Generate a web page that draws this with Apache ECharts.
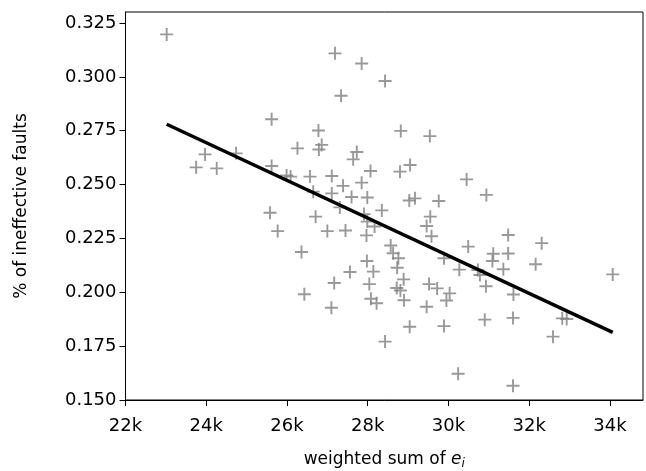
<!DOCTYPE html>
<html>
<head>
<meta charset="utf-8">
<script src="https://cdn.jsdelivr.net/npm/echarts@6/dist/echarts.min.js"></script>
<style>
html, body { margin: 0; padding: 0; background: #fff; }
#chart { width: 646px; height: 471px; }
</style>
</head>
<body>
<div id="chart"></div>
<script>
// weighted sum of e_i (x) vs. share of ineffective faults (y)
var weightedSum = [
    23020, 27190, 27850, 28430, 27340, 25620, 28820, 29540, 26780, 26860,
    26790, 26260, 27730, 27640, 28070, 28800, 29050, 30450, 30940, 23970,
    23750, 24260, 24740, 25620, 25990, 26090, 26570, 26650, 27110, 27110,
    27390, 27850, 27600, 27990, 29030, 29170, 29760, 28350, 27310, 25580,
    25770, 26710, 27000, 27450, 26360, 27910, 27990, 28170, 27970, 29550,
    29460, 29580, 28570, 28630, 28760, 28730, 27980, 28140, 28040, 28080,
    28220, 27560, 27170, 26430, 27100, 28890, 28720, 28810, 28900, 29520,
    29720, 30030, 29950, 29460, 29040, 29890, 28430, 30490, 29890, 30270,
    30730, 30780, 30930, 31110, 31090, 31480, 31480, 31360, 31610, 32310,
    32160, 34070, 30900, 31600, 32820, 32930, 32590, 30240, 31600
];
var ineffective = [
    0.3197, 0.3109, 0.3062, 0.2981, 0.2912, 0.2803, 0.2749, 0.2725, 0.2751, 0.2684,
    0.2663, 0.2668, 0.2651, 0.2617, 0.2563, 0.2560, 0.2591, 0.2524, 0.2452, 0.2640,
    0.2580, 0.2575, 0.2645, 0.2586, 0.2542, 0.2537, 0.2537, 0.2467, 0.2540, 0.2459,
    0.2494, 0.2509, 0.2442, 0.2440, 0.2426, 0.2436, 0.2424, 0.2380, 0.2394, 0.2369,
    0.2284, 0.2351, 0.2284, 0.2287, 0.2187, 0.2363, 0.2328, 0.2305, 0.2264, 0.2351,
    0.2308, 0.2260, 0.2217, 0.2181, 0.2158, 0.2114, 0.2145, 0.2096, 0.2038, 0.1970,
    0.1949, 0.2094, 0.2043, 0.1991, 0.1928, 0.2060, 0.2020, 0.2008, 0.1963, 0.2038,
    0.2018, 0.1995, 0.1962, 0.1933, 0.1840, 0.1843, 0.1771, 0.2212, 0.2158, 0.2105,
    0.2103, 0.2080, 0.2028, 0.2179, 0.2145, 0.2266, 0.2180, 0.2107, 0.1990, 0.2228,
    0.2130, 0.2083, 0.1873, 0.1881, 0.1879, 0.1876, 0.1794, 0.1622, 0.1566
];
// regression line end points
var fitX = [23020, 34070];
var fitY = [0.2780, 0.1814];

var xTicks = [22000, 24000, 26000, 28000, 30000, 32000, 34000];
var yTicks = [0.150, 0.175, 0.200, 0.225, 0.250, 0.275, 0.300, 0.325];

var font = 'DejaVu Sans';
var tickSize = 18;
var titleSize = 17;
var chart = echarts.init(document.getElementById('chart'));

var points = weightedSum.map(function (x, i) {
    return [x, ineffective[i]];
});
var fitLine = fitX.map(function (x, i) {
    return [x, fitY[i]];
});

chart.setOption({
    animation: false,
    backgroundColor: '#fff',
    grid: {
        left: 125.5,
        right: 3,
        top: 12,
        bottom: 71,
        show: true,
        borderColor: '#000',
        borderWidth: 1,
        outerBoundsMode: 'none'
    },
    xAxis: {
        type: 'value',
        min: 22000,
        max: 34820,
        name: '{t|weighted sum of }{e|e}{s|i}',
        nameLocation: 'middle',
        nameGap: 50,
        nameTextStyle: {
            rich: {
                t: { fontFamily: font, fontSize: titleSize, color: '#000' },
                e: { fontFamily: font, fontSize: titleSize, fontStyle: 'italic', color: '#000' },
                s: { fontFamily: font, fontSize: 12, fontStyle: 'italic', color: '#000', padding: [8, 0, 0, 0] }
            }
        },
        axisLine: { show: true, lineStyle: { color: '#000', width: 1 } },
        axisTick: { show: true, length: 6, customValues: xTicks, lineStyle: { color: '#000', width: 1 } },
        axisLabel: {
            customValues: xTicks,
            margin: 17,
            fontFamily: font,
            fontSize: tickSize,
            color: '#000',
            formatter: function (v) {
                return (v / 1000) + 'k';
            }
        },
        splitLine: { show: false }
    },
    yAxis: {
        type: 'value',
        min: 0.150,
        max: 0.3301,
        name: '% of ineffective faults',
        nameLocation: 'middle',
        nameGap: 95,
        nameTextStyle: { fontFamily: font, fontSize: titleSize, color: '#000' },
        axisLine: { show: true, lineStyle: { color: '#000', width: 1 } },
        axisTick: { show: true, length: 6, customValues: yTicks, lineStyle: { color: '#000', width: 1 } },
        axisLabel: {
            customValues: yTicks,
            margin: 9,
            fontFamily: font,
            fontSize: tickSize,
            color: '#000',
            formatter: function (v) {
                return v.toFixed(3);
            }
        },
        splitLine: { show: false }
    },
    series: [
        {
            type: 'scatter',
            data: points,
            symbol: 'path://M0,5L10,5M5,0L5,10',
            symbolSize: 13,
            itemStyle: { color: '#7f7f7f', borderColor: '#7f7f7f', borderWidth: 1.9 }
        },
        {
            type: 'line',
            data: fitLine,
            symbol: 'none',
            lineStyle: { color: '#000', width: 3.5 },
            z: 5
        }
    ]
});
</script>
</body>
</html>
